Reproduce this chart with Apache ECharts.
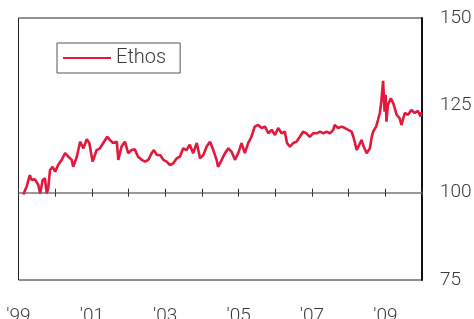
<!DOCTYPE html>
<html>
<head>
<meta charset="utf-8">
<script src="https://cdn.jsdelivr.net/npm/echarts@6/dist/echarts.min.js"></script>
<style>
    html, body { margin: 0; padding: 0; background: #fff; }
    #chart { width: 474px; height: 319px; }
</style>
</head>
<body>
<div id="chart"></div>
<script>
    // time as decimal years
    var years = [
        1999.13, 1999.22, 1999.31, 1999.36, 1999.45, 1999.54, 1999.59, 1999.66, 1999.72, 1999.77,
        1999.81, 1999.86, 1999.93, 2000.00, 2000.08, 2000.18, 2000.27, 2000.36, 2000.45, 2000.49,
        2000.59, 2000.68, 2000.77, 2000.86, 2000.93, 2001.02, 2001.13, 2001.22, 2001.31, 2001.42,
        2001.49, 2001.58, 2001.68, 2001.72, 2001.81, 2001.90, 2001.99, 2002.08, 2002.17, 2002.26,
        2002.36, 2002.45, 2002.54, 2002.63, 2002.69, 2002.77, 2002.86, 2002.95, 2003.04, 2003.13,
        2003.22, 2003.31, 2003.40, 2003.49, 2003.58, 2003.67, 2003.76, 2003.86, 2003.95, 2004.04,
        2004.13, 2004.22, 2004.31, 2004.40, 2004.44, 2004.54, 2004.63, 2004.72, 2004.81, 2004.90,
        2004.99, 2005.08, 2005.17, 2005.26, 2005.35, 2005.44, 2005.53, 2005.63, 2005.72, 2005.81,
        2005.90, 2005.99, 2006.08, 2006.17, 2006.26, 2006.32, 2006.40, 2006.49, 2006.58, 2006.67,
        2006.76, 2006.85, 2006.94, 2007.03, 2007.13, 2007.22, 2007.31, 2007.40, 2007.49, 2007.58,
        2007.62, 2007.71, 2007.81, 2007.90, 2007.99, 2008.08, 2008.14, 2008.22, 2008.29, 2008.35,
        2008.41, 2008.49, 2008.53, 2008.58, 2008.63, 2008.67, 2008.75, 2008.80, 2008.85, 2008.89,
        2008.94, 2008.98, 2009.01, 2009.03, 2009.07, 2009.15, 2009.22, 2009.31, 2009.39, 2009.44,
        2009.53, 2009.62, 2009.71, 2009.80, 2009.89, 2009.96, 2009.98
    ];
    var ethos = [
        99.5, 101.7, 105.0, 103.6, 103.8, 102.2, 99.8, 103.6, 104.1, 99.8,
        101.3, 106.5, 107.4, 106.0, 107.9, 109.4, 111.3, 110.3, 109.4, 107.4,
        110.3, 114.6, 112.7, 115.3, 114.2, 108.9, 112.2, 112.7, 114.2, 116.0,
        115.1, 114.2, 114.6, 109.4, 113.2, 114.6, 111.3, 112.2, 112.4, 110.3,
        109.4, 108.9, 109.4, 111.3, 112.2, 110.8, 110.8, 109.4, 108.9, 107.9,
        108.4, 109.8, 110.3, 112.7, 112.2, 113.7, 111.3, 114.2, 109.8, 110.8,
        113.2, 114.6, 112.2, 109.4, 107.4, 109.4, 111.3, 112.7, 111.7, 109.4,
        111.3, 114.2, 111.3, 114.2, 116.0, 118.9, 119.4, 118.5, 118.9, 117.0,
        118.0, 116.5, 118.5, 117.0, 117.5, 114.2, 113.2, 114.2, 114.6, 116.0,
        117.5, 117.0, 116.0, 117.0, 117.0, 117.5, 117.0, 117.5, 117.0, 118.0,
        119.4, 118.5, 118.9, 118.5, 118.0, 117.5, 115.6, 112.2, 113.7, 115.1,
        113.2, 111.3, 111.3, 112.7, 116.0, 117.5, 118.9, 120.8, 122.8, 126.0,
        132.0, 123.2, 128.0, 120.3, 125.1, 127.0, 125.5, 122.3, 121.3, 119.4,
        122.8, 122.3, 123.7, 122.8, 123.4, 121.8, 123.0
    ];
    var yTicks = [75, 100, 125, 150];
    var baseLevel = 100;
    var seriesName = 'Ethos';

    var points = years.map(function (y, i) { return [y, ethos[i]]; });
    var font = 'Roboto, "Liberation Sans", sans-serif';
    var red = '#e2183c';
    var textColor = '#3a3a3a';
    var gTop = 18, gBottom = 39, gLeft = 18.5, gRight = 52;
    var plotH = 319 - gTop - gBottom;
    var yMin = yTicks[0], yMax = yTicks[yTicks.length - 1];
    var baseY = gTop + (yMax - baseLevel) / (yMax - yMin) * plotH;

    // helper axes that only draw the 100 line and its ticks
    function tickAxis(gridIndex, position, showLine) {
        return {
            type: 'value', gridIndex: gridIndex, position: position,
            min: 1999, max: 2010, interval: 1,
            axisLine: { show: showLine, onZero: false, lineStyle: { color: '#777', width: 1.5 } },
            axisTick: { show: true, length: 4, lineStyle: { color: '#333', width: 1 } },
            axisLabel: { show: false }, splitLine: { show: false }
        };
    }
    function hiddenY(gridIndex) {
        return { type: 'value', gridIndex: gridIndex, min: yMin, max: yMax, show: false };
    }

    var chart = echarts.init(document.getElementById('chart'));
    var option = {
        animation: false,
        grid: [
            {
                left: gLeft, right: gRight, top: gTop, bottom: gBottom,
                show: true, borderColor: '#222', borderWidth: 1, outerBoundsMode: 'none'
            },
            { left: gLeft, right: gRight, top: gTop, height: baseY - gTop, outerBoundsMode: 'none' },
            { left: gLeft, right: gRight, top: baseY, bottom: gBottom, outerBoundsMode: 'none' }
        ],
        legend: {
            left: 57, top: 43,
            data: [{ name: seriesName, icon: 'rect' }],
            itemWidth: 48, itemHeight: 2, itemGap: 6,
            padding: [5, 14, 5, 6],
            borderColor: '#555', borderWidth: 1,
            textStyle: { fontFamily: font, fontSize: 20, fontWeight: 300, color: textColor }
        },
        xAxis: [
            {
                type: 'value', gridIndex: 0, min: 1999, max: 2010, interval: 1,
                axisLine: { show: false }, axisTick: { show: false }, splitLine: { show: false },
                axisLabel: {
                    margin: 27, fontFamily: font, fontSize: 19, fontWeight: 300, color: textColor,
                    formatter: function (v) {
                        return v % 2 === 1 ? "'" + String(v).slice(2) : '';
                    }
                }
            },
            tickAxis(1, 'bottom', true),
            tickAxis(2, 'top', false)
        ],
        yAxis: [
            {
                type: 'value', gridIndex: 0, position: 'right',
                min: yMin, max: yMax, interval: 25,
                axisLine: { show: true, lineStyle: { color: '#111', width: 2 } },
                axisTick: { show: false }, splitLine: { show: false },
                axisLabel: {
                    margin: 18, fontFamily: font, fontSize: 19, fontWeight: 300, color: textColor,
                    padding: [5, 0, 0, 0]
                }
            },
            hiddenY(1),
            hiddenY(2)
        ],
        series: [{
            name: seriesName,
            type: 'line',
            xAxisIndex: 0,
            yAxisIndex: 0,
            data: points,
            showSymbol: false,
            z: 5,
            itemStyle: { color: red },
            lineStyle: { color: red, width: 2.6, join: 'bevel' }
        }]
    };
    chart.setOption(option);
</script>
</body>
</html>
